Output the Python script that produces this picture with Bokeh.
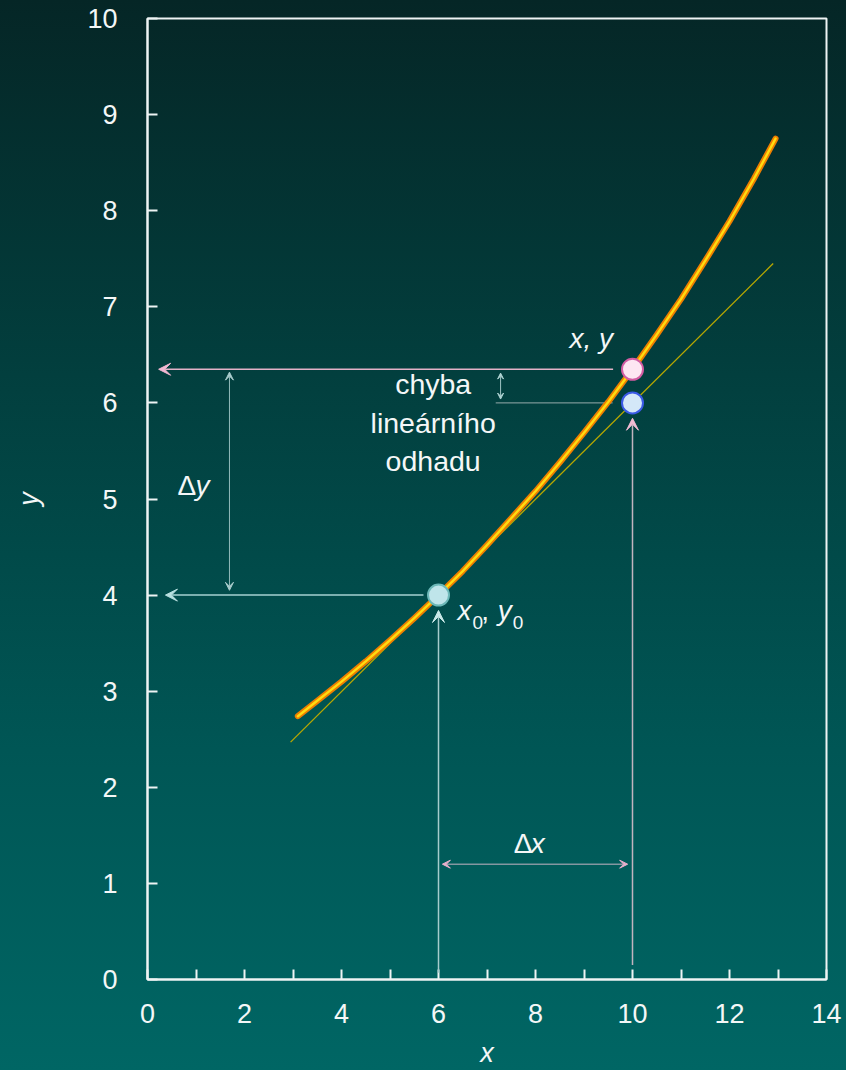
from bokeh.plotting import figure
from bokeh.models import Arrow, VeeHead, FixedTicker, Range1d
from bokeh.core.properties import value
from bokeh.embed import file_html
from bokeh.resources import INLINE

FONT = value("Liberation Sans")

# nonlinear dependence y = f(x)
curve_x = [3.1, 3.5, 4, 4.5, 5, 5.5, 6, 6.5, 7, 7.5, 8, 8.5, 9, 9.5, 10, 10.5, 11, 11.5, 12, 12.5, 12.95]
curve_y = [2.74, 2.9, 3.1, 3.31, 3.53, 3.76, 4.0, 4.25, 4.52, 4.8, 5.08, 5.38, 5.69, 6.01, 6.35,
           6.71, 7.08, 7.48, 7.89, 8.33, 8.75]

# tangent through (x0, y0): the linear estimate
tangent_x = [2.95, 12.9]
tangent_y = [2.47, 7.45]

# reference point and the evaluated point
x0, y0 = 6, 4
x1, y_true, y_lin = 10, 6.35, 6.0

x_ticks = [0, 2, 4, 6, 8, 10, 12, 14]
x_minor_ticks = [1, 3, 5, 7, 9, 11, 13]
y_ticks = [0, 1, 2, 3, 4, 5, 6, 7, 8, 9, 10]

WHITE = "#eef4f4"
TEXT = "#f4f7f7"

p = figure(width=846, height=1070, x_range=Range1d(0, 14), y_range=Range1d(0, 10),
           output_backend="svg", toolbar_location=None,
           min_border_left=147, min_border_right=20, min_border_top=18, min_border_bottom=91)
p.styles = {"background": "linear-gradient(180deg, #052626 0%, #023f3e 35%, #005655 70%, #006664 100%)"}
p.background_fill_color = None
p.border_fill_color = None
p.outline_line_color = WHITE
p.outline_line_width = 2
p.xgrid.visible = False
p.ygrid.visible = False

p.xaxis.ticker = FixedTicker(ticks=x_ticks, minor_ticks=x_minor_ticks)
p.yaxis.ticker = FixedTicker(ticks=y_ticks, minor_ticks=[])
p.xaxis.axis_label = "x"
p.yaxis.axis_label = "y"
for ax in (p.xaxis[0], p.yaxis[0]):
    ax.axis_line_color = WHITE
    ax.axis_line_width = 2
    ax.major_tick_in = 10
    ax.major_tick_out = 0
    ax.minor_tick_in = 10
    ax.minor_tick_out = 0
    ax.major_tick_line_color = WHITE
    ax.minor_tick_line_color = WHITE
    ax.major_tick_line_width = 2
    ax.minor_tick_line_width = 2
    ax.major_label_text_font = "Liberation Sans"
    ax.major_label_text_font_size = "27px"
    ax.major_label_text_color = TEXT
    ax.axis_label_text_font = "Liberation Sans"
    ax.axis_label_text_font_size = "27px"
    ax.axis_label_text_font_style = "italic"
    ax.axis_label_text_color = TEXT
p.xaxis.major_label_standoff = 24
p.xaxis.axis_label_standoff = 12
p.yaxis.major_label_standoff = 30
p.yaxis.axis_label_standoff = 40


def arrow(xs, ys, xe, ye, color, head_color, width=1.2, size=12, both=False):
    head = VeeHead(size=size, fill_color=head_color, line_color=head_color, line_width=1)
    start = VeeHead(size=size, fill_color=head_color, line_color=head_color, line_width=1) if both else None
    p.add_layout(Arrow(x_start=xs, y_start=ys, x_end=xe, y_end=ye, end=head, start=start,
                       line_color=color, line_width=width))


# projections onto the axes
arrow(9.6, y_true, 0.23, y_true, "#e3b2c8", "#f2b8d2", width=1.5)
arrow(5.69, y0, 0.37, y0, "#a6d2d2", "#b8e0e0", width=1.5)
arrow(x0, 0.07, x0, 3.84, "#a6cccc", "#c8e8e8", width=1.5)
arrow(x1, 0.15, x1, 5.84, "#c2b4bf", "#f2bcd4", width=1.5)
# increments
arrow(1.69, 6.32, 1.69, 4.05, "#94bcbc", "#a8cccc", width=1, size=8, both=True)
arrow(6.08, 1.2, 9.9, 1.2, "#c6b4c4", "#e8b0cc", width=1, size=8, both=True)
# error of the linear estimate
p.line([7.18, 9.59], [y_lin, y_lin], line_color="#98acac", line_width=1)
arrow(7.28, 6.31, 7.28, 6.04, "#a0c4c4", "#b0d4d4", width=1, size=6, both=True)

# tangent and curve
p.line(tangent_x, tangent_y, line_color="#b8a800", line_width=1.3)
p.line(curve_x, curve_y, line_color="#ee7e00", line_width=6, line_cap="round", line_join="round")
p.line(curve_x, curve_y, line_color="#ffdc10", line_width=2.4, line_cap="round", line_join="round")

# points
p.scatter([x0], [y0], size=21, fill_color="#bfe5ea", line_color="#6cb8b8", line_width=2)
p.scatter([x1], [y_true], size=21, fill_color="#fde6f2", line_color="#d25ca2", line_width=2)
p.scatter([x1], [y_lin], size=21, fill_color="#d4e8f8", line_color="#3a5ae6", line_width=2)

# labels
p.text([5.89, 5.89, 5.89], [6.20, 5.795, 5.393], text=["chyba", "lineárního", "odhadu"],
       text_font=FONT, text_font_size="28.5px", text_color=TEXT,
       text_align="center", text_baseline="alphabetic")
p.text([9.15], [6.675], text=["x, y"], text_font=FONT, text_font_size="28px",
       text_font_style="italic", text_color=TEXT, text_align="center", text_baseline="alphabetic")
p.text([6.39, 7.22], [3.843, 3.843], text=["x", "y"], text_font=FONT, text_font_size="28px",
       text_font_style="italic", text_color=TEXT, text_align="left", text_baseline="alphabetic")
p.text([6.70, 7.53], [3.72, 3.72], text=["0", "0"], text_font=FONT, text_font_size="19px",
       text_color=TEXT, text_align="left", text_baseline="alphabetic")
p.text([6.88], [3.843], text=[","], text_font=FONT, text_font_size="28px",
       text_color=TEXT, text_align="left", text_baseline="alphabetic")
p.text([0.62, 7.55], [5.143, 1.413], text=["Δ", "Δ"], text_font=FONT, text_font_size="28px",
       text_color=TEXT, text_align="left", text_baseline="alphabetic")
p.text([0.99, 7.90], [5.143, 1.413], text=["y", "x"], text_font=FONT, text_font_size="28px",
       text_font_style="italic", text_color=TEXT, text_align="left", text_baseline="alphabetic")

with open("out.html", "w") as f:
    f.write(file_html(p, INLINE, title="Linearni odhad"))
